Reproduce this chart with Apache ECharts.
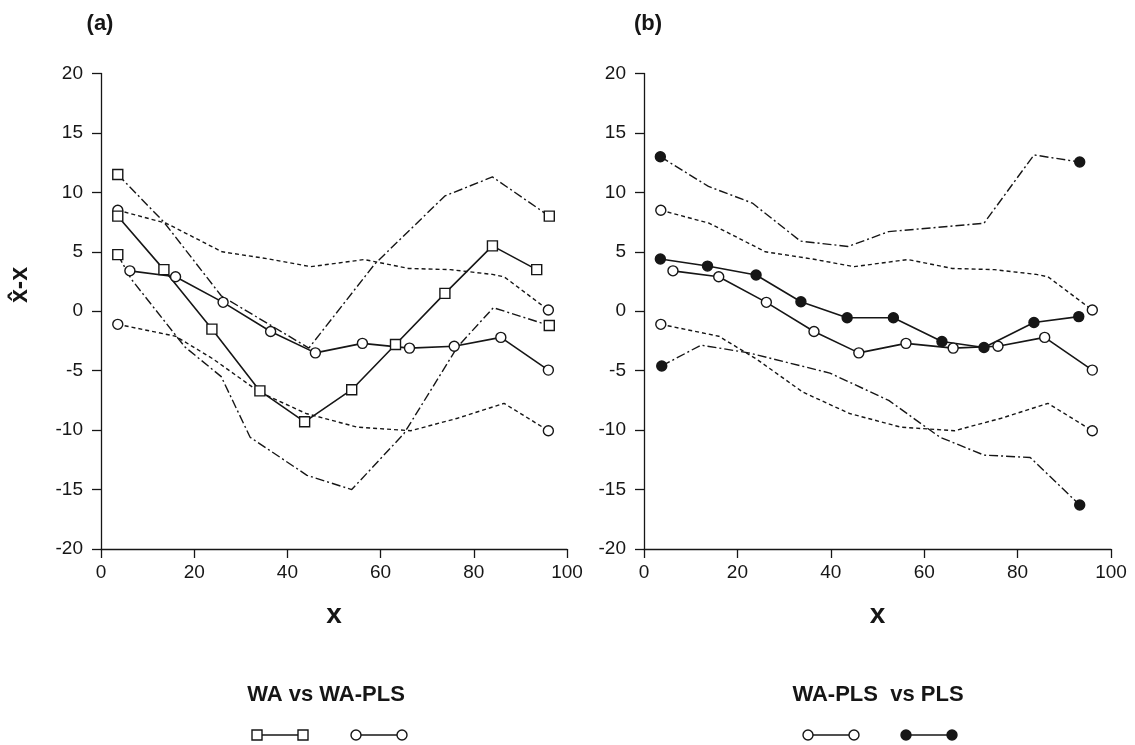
<!DOCTYPE html>
<html>
<head>
<meta charset="utf-8">
<script src="https://cdn.jsdelivr.net/npm/echarts@6/dist/echarts.min.js"></script>
<style>
  html, body { margin: 0; padding: 0; background: #fff; }
  #chart { width: 1135px; height: 745px; }
</style>
</head>
<body>
<div id="chart"></div>
<script>
// --- data: [x, x̂-x] pairs ---
const waBias = [[3.6, 8.0], [13.5, 3.5], [23.8, -1.5], [34.1, -6.7], [43.7, -9.3], [53.8, -6.6], [63.2, -2.8], [73.8, 1.5], [84.0, 5.5], [93.5, 3.5]]
const waUpper = [[3.6, 11.5], [13.5, 7.5], [25.8, 1.3], [44.6, -3.1], [58.8, 4.0], [73.8, 9.7], [84.0, 11.3], [96.2, 8.0]]
const waLower = [[3.6, 4.76], [6.5, 2.7], [18, -3.0], [25.8, -5.5], [32, -10.6], [44.2, -13.8], [53.8, -15.0], [65, -10.3], [76.5, -3.0], [84.2, 0.3], [96.2, -1.2]]

const wplsBias = [[6.2, 3.4], [16.0, 2.9], [26.2, 0.75], [36.4, -1.7], [46.0, -3.5], [56.1, -2.7], [66.2, -3.1], [75.8, -2.95], [85.8, -2.2], [96.0, -4.95]]
const wplsUpper = [[3.6, 8.5], [14, 7.4], [26, 5.0], [36, 4.4], [45, 3.75], [56.5, 4.35], [66, 3.6], [75, 3.5], [84, 3.1], [86.5, 2.9], [96, 0.1]]
const wplsLower = [[3.6, -1.1], [16, -2.1], [24, -4.0], [34, -6.8], [44, -8.6], [55, -9.75], [66.5, -10.05], [76.5, -9.0], [86.5, -7.75], [96, -10.05]]

const plsBias = [[3.5, 4.4], [13.6, 3.8], [24.0, 3.05], [33.6, 0.8], [43.5, -0.55], [53.4, -0.55], [63.8, -2.55], [72.8, -3.05], [83.5, -0.95], [93.1, -0.45]]
const plsUpper = [[3.5, 13.0], [13.8, 10.5], [23.2, 9.1], [33.5, 5.9], [43.7, 5.45], [52.4, 6.7], [72.8, 7.4], [83.5, 13.15], [93.3, 12.55]]
const plsLower = [[3.8, -4.6], [12.2, -2.85], [22.4, -3.5], [39.8, -5.2], [52.4, -7.5], [63.4, -10.6], [72.8, -12.1], [82.7, -12.3], [93.3, -16.3]]

const xTicks = { min: 0, max: 100, interval: 20 }
const yTicks = { min: -20, max: 20, interval: 5 }

const INK = '#161616'
const FONT = '"Liberation Sans", Arial, sans-serif'
const DOTTED = [4, 3]
const DASHDOT = [9, 3, 2, 3]

const chart = echarts.init(document.getElementById('chart'))

function xAxis(grid) {
  return {
    type: 'value', gridIndex: grid, ...xTicks,
    name: 'x', nameLocation: 'middle', nameGap: 52,
    nameTextStyle: { fontFamily: FONT, fontWeight: 'bold', fontSize: 28, color: INK },
    axisLine: { onZero: false, lineStyle: { color: INK, width: 1.3 } },
    axisTick: { length: 9, lineStyle: { color: INK, width: 1.3 } },
    axisLabel: { margin: 14, fontFamily: FONT, fontSize: 19, color: INK },
    splitLine: { show: false }
  }
}
function yAxis(grid) {
  return {
    type: 'value', gridIndex: grid, ...yTicks,
    axisLine: { onZero: false, lineStyle: { color: INK, width: 1.3 } },
    axisTick: { length: 9, lineStyle: { color: INK, width: 1.3 } },
    axisLabel: { margin: 18, fontFamily: FONT, fontSize: 19, color: INK },
    splitLine: { show: false }
  }
}

// line series; ends = only first/last point get a marker
function line(idx, data, dash, symbol, fill, ends) {
  const last = data.length - 1
  return {
    type: 'line', xAxisIndex: idx, yAxisIndex: idx, data,
    symbol,
    symbolSize: ends ? (v, p) => (p.dataIndex === 0 || p.dataIndex === last ? 10 : 0) : 10,
    showSymbol: true,
    lineStyle: { color: INK, width: dash === 'solid' ? 1.6 : 1.4, type: dash },
    itemStyle: { color: fill, borderColor: INK, borderWidth: 1.4 },
    z: dash === 'solid' ? 3 : 2,
    animation: false
  }
}

function legendPair(x, y, shape, fill) {
  const els = [{ type: 'line', shape: { x1: x, y1: y, x2: x + 46, y2: y }, style: { stroke: INK, lineWidth: 1.4 } }]
  ;[x, x + 46].forEach(cx => {
    if (shape === 'rect') {
      els.push({ type: 'rect', shape: { x: cx - 5, y: y - 5, width: 10, height: 10 }, style: { fill, stroke: INK, lineWidth: 1.4 } })
    } else {
      els.push({ type: 'circle', shape: { cx, cy: y, r: 5 }, style: { fill, stroke: INK, lineWidth: 1.4 } })
    }
  })
  return els
}

function label(text, x, y, size, rotation) {
  return { type: 'text', x, y, rotation: rotation || 0, style: { text, fontFamily: FONT, fontWeight: 'bold', fontSize: size, fill: INK, textAlign: 'center', textVerticalAlign: 'middle' } }
}

const option = {
  backgroundColor: '#fff',
  animation: false,
  grid: [
    { left: 101, top: 73.5, width: 466, height: 475.5 },
    { left: 644, top: 73.5, width: 467, height: 475.5 }
  ],
  xAxis: [xAxis(0), xAxis(1)],
  yAxis: [yAxis(0), yAxis(1)],
  series: [
    line(0, waUpper, DASHDOT, 'rect', '#fff', true),
    line(0, waLower, DASHDOT, 'rect', '#fff', true),
    line(0, wplsUpper, DOTTED, 'circle', '#fff', true),
    line(0, wplsLower, DOTTED, 'circle', '#fff', true),
    line(0, waBias, 'solid', 'rect', '#fff', false),
    line(0, wplsBias, 'solid', 'circle', '#fff', false),

    line(1, plsUpper, DASHDOT, 'circle', INK, true),
    line(1, plsLower, DASHDOT, 'circle', INK, true),
    line(1, wplsUpper, DOTTED, 'circle', '#fff', true),
    line(1, wplsLower, DOTTED, 'circle', '#fff', true),
    line(1, plsBias, 'solid', 'circle', INK, false),
    line(1, wplsBias, 'solid', 'circle', '#fff', false)
  ],
  graphic: [
    label('(a)', 100, 24, 22),
    label('(b)', 648, 24, 22),
    label('x\u0302-x', 20, 285, 25, Math.PI / 2),
    label('WA vs WA-PLS', 326, 695, 22),
    label('WA-PLS  vs PLS', 878, 695, 22),
    ...legendPair(257, 735, 'rect', '#fff'),
    ...legendPair(356, 735, 'circle', '#fff'),
    ...legendPair(808, 735, 'circle', '#fff'),
    ...legendPair(906, 735, 'circle', INK)
  ]
}

chart.setOption(option)
</script>
</body>
</html>
